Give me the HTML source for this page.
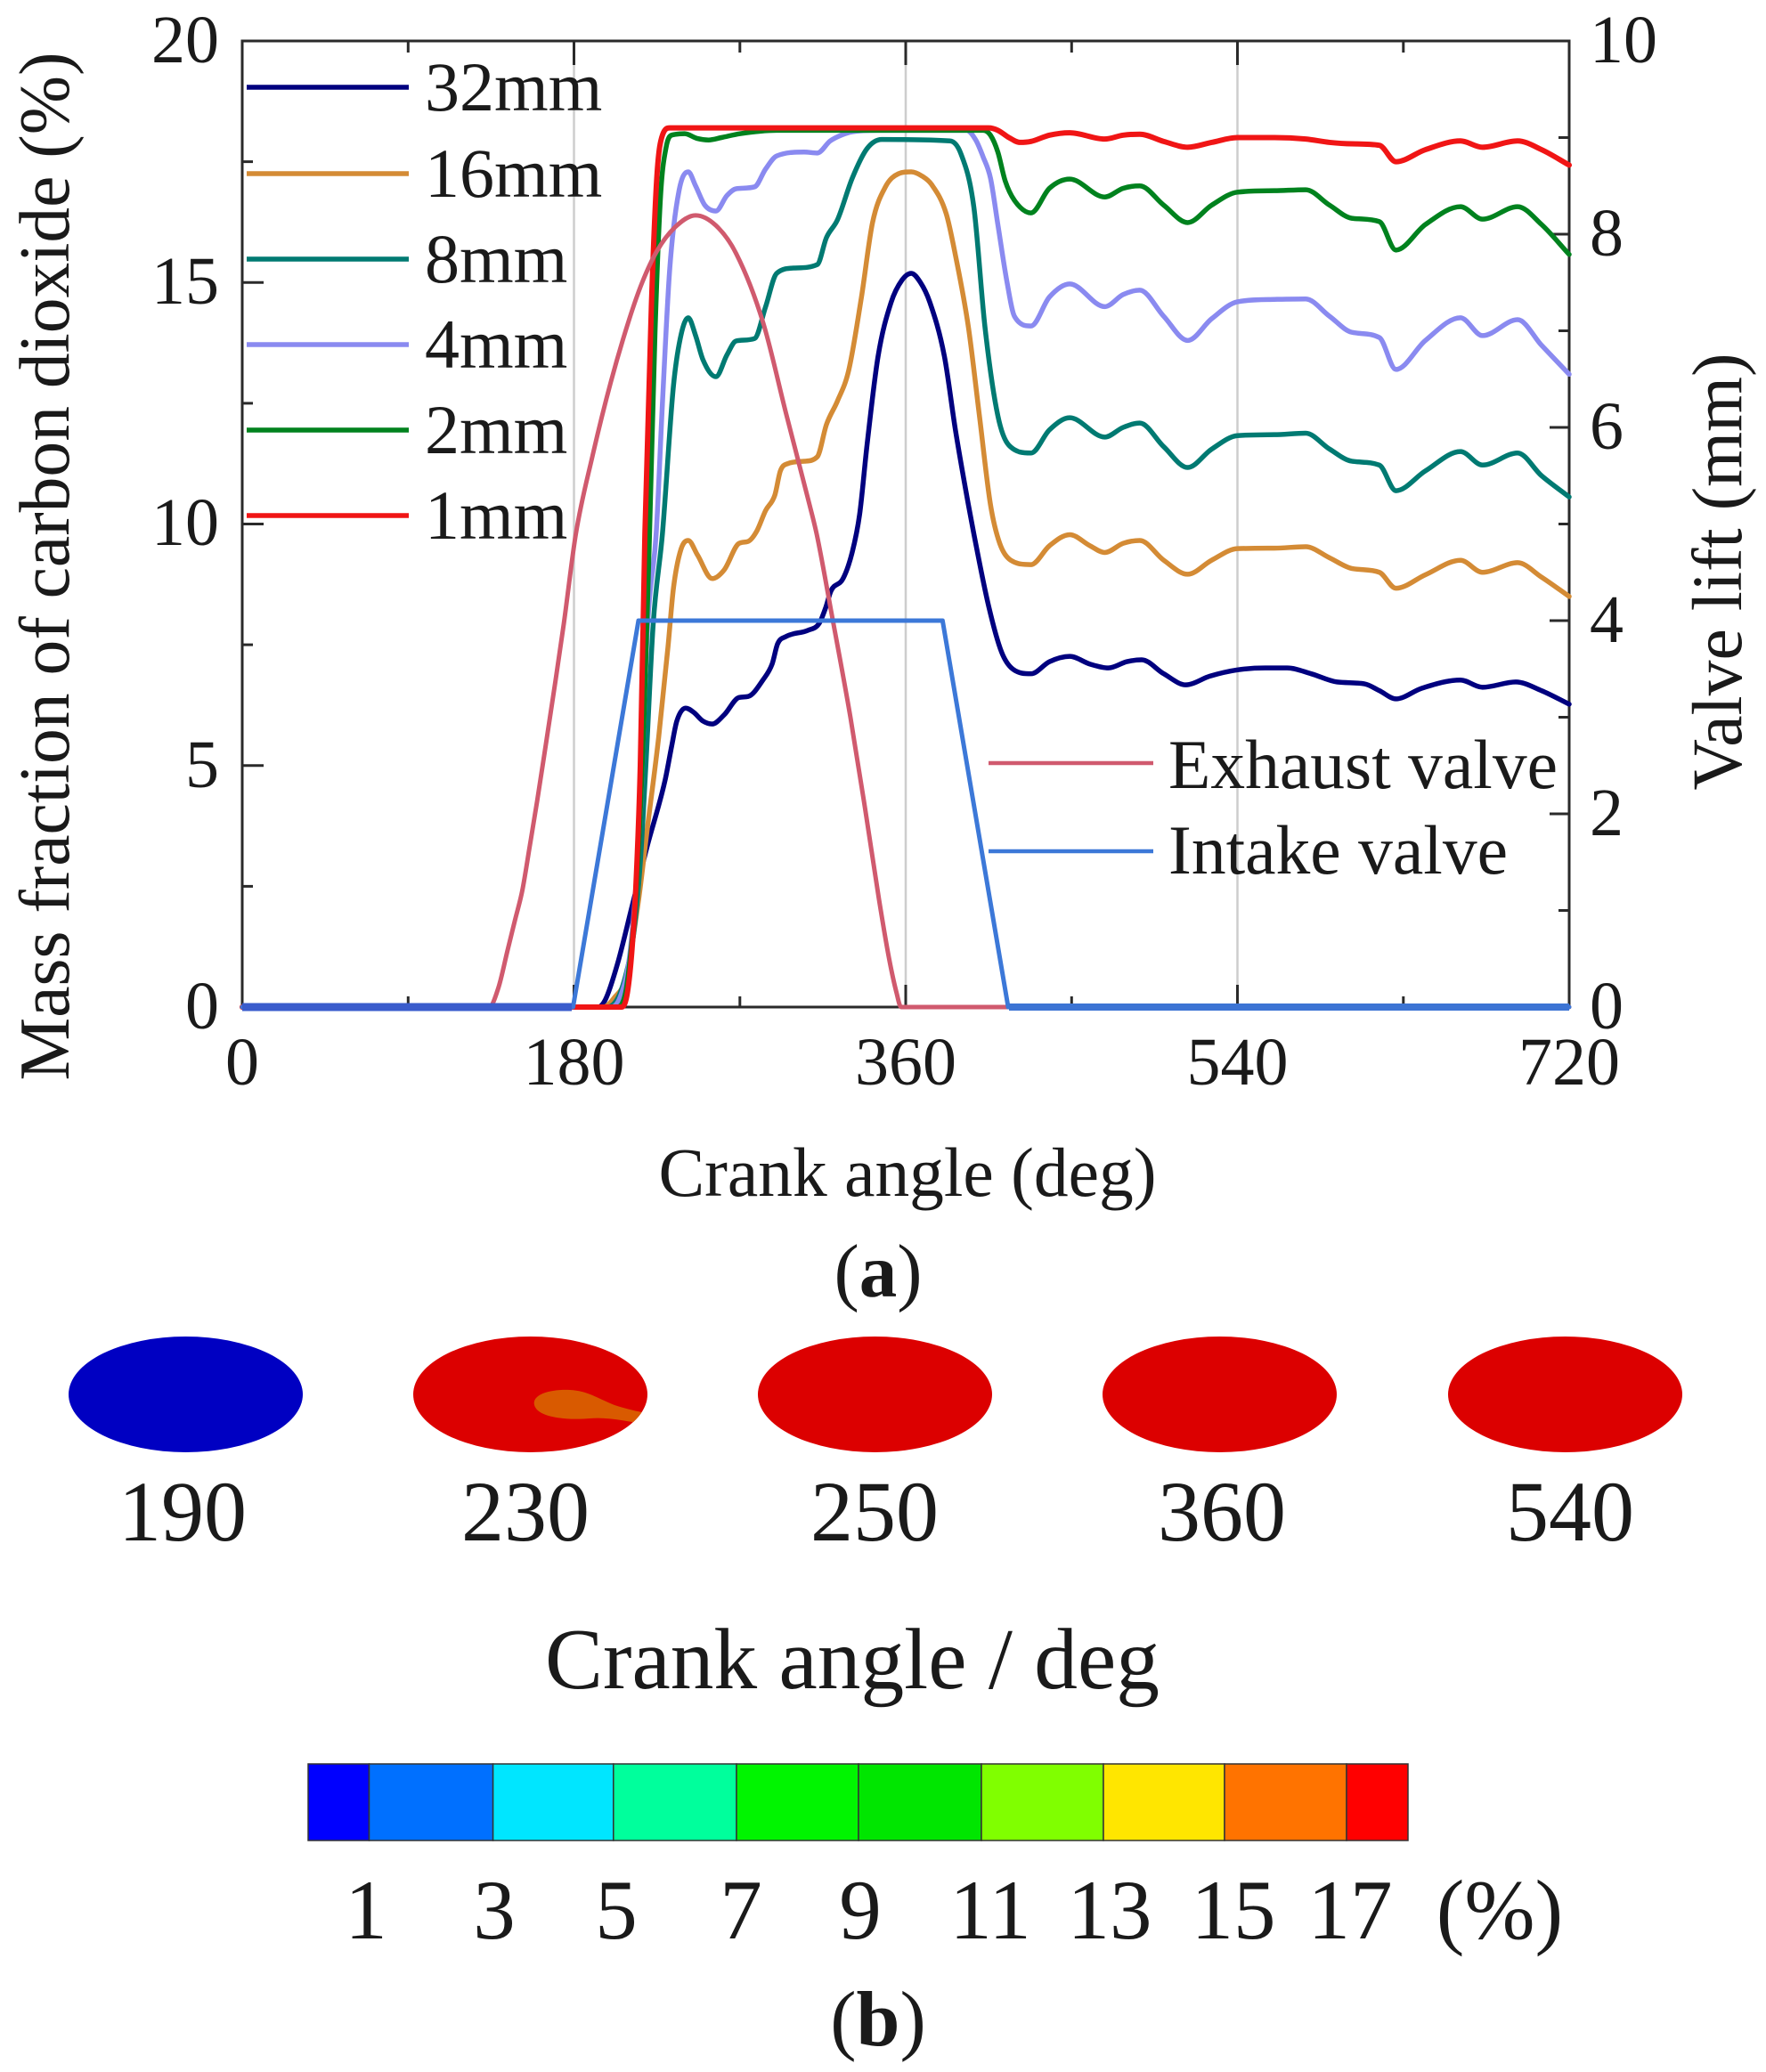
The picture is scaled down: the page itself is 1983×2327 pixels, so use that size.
<!DOCTYPE html>
<html>
<head>
<meta charset="utf-8">
<style>
html,body{margin:0;padding:0;background:#fff;}
svg{display:block;}
text{font-family:"Liberation Serif","Times New Roman",serif;fill:#1a1a1a;}
</style>
</head>
<body>
<svg id="svg" xmlns="http://www.w3.org/2000/svg" width="1983" height="2327" viewBox="0 0 1983 2327">
<rect x="0" y="0" width="1983" height="2327" fill="#fff"/>
<!-- gridlines -->
<g stroke="#cdcdcd" stroke-width="2.5">
<line x1="644.5" y1="46" x2="644.5" y2="1131"/>
<line x1="1017" y1="46" x2="1017" y2="1131"/>
<line x1="1389.5" y1="46" x2="1389.5" y2="1131"/>
</g>
<!-- axes frame -->
<rect x="272" y="46" width="1490" height="1085" fill="none" stroke="#2a2a2a" stroke-width="3"/>
<!-- ticks -->
<g stroke="#2a2a2a" stroke-width="3">
<line x1="644.5" y1="1131" x2="644.5" y2="1106"/>
<line x1="1017" y1="1131" x2="1017" y2="1106"/>
<line x1="1389.5" y1="1131" x2="1389.5" y2="1106"/>
<line x1="458.3" y1="1131" x2="458.3" y2="1119"/>
<line x1="830.8" y1="1131" x2="830.8" y2="1119"/>
<line x1="1203.3" y1="1131" x2="1203.3" y2="1119"/>
<line x1="1575.8" y1="1131" x2="1575.8" y2="1119"/>
<line x1="644.5" y1="46" x2="644.5" y2="73"/>
<line x1="1017" y1="46" x2="1017" y2="73"/>
<line x1="1389.5" y1="46" x2="1389.5" y2="73"/>
<line x1="458.3" y1="46" x2="458.3" y2="59"/>
<line x1="830.8" y1="46" x2="830.8" y2="59"/>
<line x1="1203.3" y1="46" x2="1203.3" y2="59"/>
<line x1="1575.8" y1="46" x2="1575.8" y2="59"/>
<line x1="272" y1="859.75" x2="296" y2="859.75"/>
<line x1="272" y1="588.5" x2="296" y2="588.5"/>
<line x1="272" y1="317.25" x2="296" y2="317.25"/>
<line x1="272" y1="995.4" x2="284" y2="995.4"/>
<line x1="272" y1="724.1" x2="284" y2="724.1"/>
<line x1="272" y1="452.9" x2="284" y2="452.9"/>
<line x1="272" y1="181.6" x2="284" y2="181.6"/>
<line x1="1762" y1="914" x2="1740" y2="914"/>
<line x1="1762" y1="697" x2="1740" y2="697"/>
<line x1="1762" y1="480" x2="1740" y2="480"/>
<line x1="1762" y1="263" x2="1740" y2="263"/>
<line x1="1762" y1="1022.5" x2="1750" y2="1022.5"/>
<line x1="1762" y1="805.5" x2="1750" y2="805.5"/>
<line x1="1762" y1="588.5" x2="1750" y2="588.5"/>
<line x1="1762" y1="371.5" x2="1750" y2="371.5"/>
<line x1="1762" y1="154.5" x2="1750" y2="154.5"/>
</g>
<g id="series" fill="none" stroke-linejoin="round" stroke-linecap="round"></g>
<!-- thick zero segments -->
<line x1="272" y1="1131" x2="642" y2="1131" stroke="#3a5ccc" stroke-width="9"/>
<line x1="1133" y1="1131" x2="1762" y2="1131" stroke="#3c74d4" stroke-width="8"/>

<!-- tick labels -->
<g font-size="76" text-anchor="end">
<text x="246" y="70">20</text>
<text x="246" y="341">15</text>
<text x="246" y="612">10</text>
<text x="246" y="884">5</text>
<text x="246" y="1155">0</text>
</g>
<g font-size="76" text-anchor="start">
<text x="1785" y="70">10</text>
<text x="1785" y="287">8</text>
<text x="1785" y="504">6</text>
<text x="1785" y="721">4</text>
<text x="1785" y="938">2</text>
<text x="1785" y="1155">0</text>
</g>
<g font-size="76" text-anchor="middle">
<text x="272" y="1218">0</text>
<text x="644.5" y="1218">180</text>
<text x="1017" y="1218">360</text>
<text x="1389.5" y="1218">540</text>
<text x="1762" y="1218">720</text>
</g>
<!-- axis titles -->
<text font-size="80" text-anchor="middle" transform="translate(77,636) rotate(-90)" textLength="1155" lengthAdjust="spacingAndGlyphs">Mass fraction of carbon dioxide (%)</text>
<text font-size="79" text-anchor="middle" transform="translate(1955,642) rotate(-90)" textLength="491" lengthAdjust="spacingAndGlyphs">Valve lift (mm)</text>
<text font-size="78" x="1019" y="1343" text-anchor="middle" textLength="559" lengthAdjust="spacingAndGlyphs">Crank angle (deg)</text>
<!-- legend CO2 -->
<g stroke-width="5.5">
<line x1="277" y1="98" x2="459" y2="98" stroke="#00007f"/>
<line x1="277" y1="195" x2="459" y2="195" stroke="#d48b35"/>
<line x1="277" y1="291" x2="459" y2="291" stroke="#007a72"/>
<line x1="277" y1="387" x2="459" y2="387" stroke="#8a8af0"/>
<line x1="277" y1="483" x2="459" y2="483" stroke="#00821e"/>
<line x1="277" y1="579" x2="459" y2="579" stroke="#f01515"/>
</g>
<g font-size="78">
<text x="477" y="124">32mm</text>
<text x="477" y="221">16mm</text>
<text x="477" y="317">8mm</text>
<text x="477" y="413">4mm</text>
<text x="477" y="509">2mm</text>
<text x="477" y="605">1mm</text>
</g>
<!-- legend valves -->
<line x1="1110" y1="857" x2="1295" y2="857" stroke="#d05a6e" stroke-width="4.5"/>
<line x1="1110" y1="956" x2="1295" y2="956" stroke="#3c78d8" stroke-width="4.5"/>
<text font-size="78" x="1312" y="885" textLength="437" lengthAdjust="spacingAndGlyphs">Exhaust valve</text>
<text font-size="78" x="1312" y="981" textLength="381" lengthAdjust="spacingAndGlyphs">Intake valve</text>

<text font-size="85" x="986" y="1456" text-anchor="middle">(<tspan font-weight="bold">a</tspan>)</text>

<!-- ellipses -->
<defs>
<clipPath id="e2"><ellipse cx="595.5" cy="1566" rx="131.5" ry="65"/></clipPath>
</defs>
<ellipse cx="208.5" cy="1566" rx="131.5" ry="65" fill="#0000c2"/>
<ellipse cx="595.5" cy="1566" rx="131.5" ry="65" fill="#dc0000"/>
<path clip-path="url(#e2)" fill="#d95a00" d="M600 1578 C597 1566 618 1560 640 1561 C660 1562 670 1570 690 1578 C705 1583 716 1585 730 1588 L730 1600 C705 1597 685 1591 662 1593 C640 1595 604 1593 600 1578 Z"/>
<ellipse cx="982.5" cy="1566" rx="131.5" ry="65" fill="#dc0000"/>
<ellipse cx="1369.5" cy="1566" rx="131.5" ry="65" fill="#dc0000"/>
<ellipse cx="1757.5" cy="1566" rx="131.5" ry="65" fill="#dc0000"/>
<g font-size="96" text-anchor="middle">
<text x="205" y="1730">190</text>
<text x="590" y="1730">230</text>
<text x="982" y="1730">250</text>
<text x="1372" y="1730">360</text>
<text x="1763" y="1730">540</text>
</g>
<text font-size="98" x="957" y="1896" text-anchor="middle" textLength="690" lengthAdjust="spacingAndGlyphs">Crank angle / deg</text>

<!-- colorbar -->
<g stroke="#333" stroke-width="1.5">
<rect x="346" y="1981" width="68.5" height="86" fill="#0000ff"/>
<rect x="414.5" y="1981" width="139.1" height="86" fill="#0070ff"/>
<rect x="553.6" y="1981" width="135.2" height="86" fill="#00e6ff"/>
<rect x="688.8" y="1981" width="138.2" height="86" fill="#00ff9c"/>
<rect x="827" y="1981" width="137" height="86" fill="#00f500"/>
<rect x="964" y="1981" width="138" height="86" fill="#00e600"/>
<rect x="1102" y="1981" width="137" height="86" fill="#80ff00"/>
<rect x="1239" y="1981" width="136" height="86" fill="#ffe600"/>
<rect x="1375" y="1981" width="137" height="86" fill="#ff7300"/>
<rect x="1512" y="1981" width="69" height="86" fill="#ff0000"/>
</g>
<g font-size="95" text-anchor="middle">
<text x="411" y="2177">1</text>
<text x="555" y="2177">3</text>
<text x="692" y="2177">5</text>
<text x="832" y="2177">7</text>
<text x="966" y="2177">9</text>
<text x="1112" y="2177">11</text>
<text x="1246" y="2177">13</text>
<text x="1385" y="2177">15</text>
<text x="1516" y="2177">17</text>
<text x="1684" y="2177">(%)</text>
</g>
<text font-size="88" x="986" y="2297" text-anchor="middle">(<tspan font-weight="bold">b</tspan>)</text>
</svg>
<script>
(function(){
var X=function(t){return 272+t*1490/720;};
var Y=function(v){return 1131-v*54.25;};
function mono(p){
 var n=p.length,i,d=[],m=[];
 for(i=0;i<n-1;i++){d.push((p[i+1][1]-p[i][1])/(p[i+1][0]-p[i][0]));}
 m[0]=d[0];m[n-1]=d[n-2];
 for(i=1;i<n-1;i++){ if(d[i-1]*d[i]<=0){m[i]=0;} else {m[i]=(d[i-1]+d[i])/2;} }
 for(i=0;i<n-1;i++){
  if(d[i]===0){m[i]=0;m[i+1]=0;continue;}
  var a=m[i]/d[i],b=m[i+1]/d[i],s=a*a+b*b;
  if(s>9){var t=3/Math.sqrt(s);m[i]=t*a*d[i];m[i+1]=t*b*d[i];}
 }
 var s2="M"+X(p[0][0]).toFixed(2)+" "+Y(p[0][1]).toFixed(2);
 for(i=0;i<n-1;i++){
  var h=p[i+1][0]-p[i][0];
  var c1x=p[i][0]+h/3,c1y=p[i][1]+m[i]*h/3;
  var c2x=p[i+1][0]-h/3,c2y=p[i+1][1]-m[i+1]*h/3;
  s2+=" C"+X(c1x).toFixed(2)+" "+Y(c1y).toFixed(2)+" "+X(c2x).toFixed(2)+" "+Y(c2y).toFixed(2)+" "+X(p[i+1][0]).toFixed(2)+" "+Y(p[i+1][1]).toFixed(2);
 }
 return s2;
}
function poly(p){var s="";for(var i=0;i<p.length;i++){s+=(i?" L":"M")+X(p[i][0]).toFixed(2)+" "+Y(p[i][1]).toFixed(2);}return s;}
var navy=[[0,0],[193,0],[197,0.15],[203.5,0.88],[211.6,2.1],[219.8,3.34],[229.4,4.69],[233,5.4],[235.8,5.92],[240.6,6.19],[245,6.1],[250,5.92],[255,5.86],[261.5,6.05],[269.6,6.41],[274.5,6.43],[282.7,6.78],[287.5,7.1],[290.5,7.52],[295,7.67],[307,7.8],[313,7.94],[316.5,8.26],[319.5,8.62],[326,8.87],[331,9.42],[335,10.2],[339,11.63],[345,13.47],[352,14.58],[358,15.05],[363,15.19],[368,15.0],[373,14.6],[381,13.47],[387,11.94],[394,10.4],[397,9.79],[405,8.3],[412,7.35],[418,7.0],[428,6.9],[438,7.15],[449,7.26],[460,7.1],[470,7.02],[480,7.15],[488,7.19],[500,6.9],[512,6.67],[525,6.85],[540,6.98],[555,7.02],[567,7.02],[580,6.9],[594,6.73],[609,6.69],[617,6.55],[626,6.38],[640,6.6],[661,6.77],[673,6.62],[691,6.73],[705,6.55],[720,6.27]];
var orange=[[0,0],[196,0],[202,0.2],[208,0.6],[215,2.2],[220,3.76],[226,5.6],[231,7.45],[234,8.68],[238,9.47],[242,9.66],[247,9.36],[255,8.87],[261.5,9.05],[269.6,9.6],[274.5,9.64],[279,9.84],[284,10.28],[289,10.6],[292,11.1],[296,11.25],[305,11.3],[312,11.39],[317,12.06],[323,12.55],[329,13.17],[336,14.7],[342,16.24],[349,16.98],[356,17.25],[363,17.29],[369,17.2],[374,17.03],[382,16.42],[387,15.56],[394,14.08],[400,12.24],[406,10.4],[411,9.6],[417,9.25],[428,9.16],[438,9.55],[449,9.78],[460,9.55],[468,9.41],[478,9.6],[487,9.66],[500,9.25],[513,8.96],[526,9.25],[540,9.49],[560,9.5],[577,9.53],[590,9.3],[602,9.08],[617,9.0],[626,8.67],[642,8.95],[661,9.25],[673,9.0],[692,9.2],[705,8.9],[720,8.5]];
var teal=[[0,0],[198,0],[204,0.2],[209,0.8],[212,1.4],[216,3],[219,5],[223,7.94],[228,9.8],[234,12.87],[238,13.9],[242,14.27],[246,13.9],[250,13.4],[257,13.05],[263,13.5],[268,13.79],[278,13.84],[284,14.5],[290,15.19],[300,15.3],[312,15.37],[317,15.93],[323,16.3],[331,17.16],[339,17.77],[347,17.96],[384,17.93],[390,17.66],[397,16.55],[403,14.08],[410,12.24],[416,11.63],[428,11.47],[438,11.95],[449,12.2],[468,11.8],[478,12.0],[487,12.09],[500,11.6],[513,11.17],[526,11.55],[540,11.83],[560,11.85],[577,11.88],[590,11.55],[602,11.3],[617,11.22],[626,10.69],[642,11.1],[661,11.5],[673,11.22],[692,11.47],[705,11.0],[720,10.56]];
var lav=[[0,0],[200,0],[205,0.2],[210,1],[213,2.2],[216,4],[220,7.94],[224.6,9.8],[228,12.5],[232,15.3],[237,16.9],[242,17.29],[246,17.0],[251,16.6],[257,16.48],[263,16.8],[268,16.94],[278,16.98],[284,17.35],[290,17.62],[305,17.7],[312,17.68],[319,17.93],[325,18.05],[331,18.12],[345,18.15],[393,18.15],[398,17.95],[402,17.6],[406,17.16],[410,16.2],[415,15.0],[419,14.3],[428,14.1],[438,14.7],[449,14.97],[468,14.5],[478,14.75],[487,14.84],[500,14.3],[513,13.8],[526,14.25],[540,14.6],[560,14.65],[577,14.66],[590,14.3],[602,13.97],[617,13.86],[626,13.2],[642,13.8],[661,14.27],[673,13.9],[692,14.23],[705,13.7],[720,13.1]];
var green=[[0,0],[203,0],[208,0.3],[211,1.2],[214,2.5],[218,6],[221,9.8],[224,14],[227,16.8],[230,17.8],[233,18.05],[240,18.08],[247,17.98],[253,17.95],[260,18.0],[270,18.08],[290,18.15],[402,18.15],[406,18.05],[410,17.7],[414,17.1],[419,16.7],[428,16.44],[438,16.95],[449,17.14],[468,16.77],[478,16.95],[487,17.0],[500,16.6],[513,16.24],[526,16.6],[540,16.87],[560,16.9],[577,16.92],[590,16.6],[602,16.33],[617,16.26],[626,15.67],[642,16.2],[661,16.57],[673,16.31],[692,16.57],[705,16.2],[720,15.58]];
var red=[[0,0],[206,0],[209,0.3],[211.5,1.2],[213.6,2.5],[216,5],[218.5,9.8],[222,14.5],[225,17.2],[228,18.05],[232,18.2],[405,18.2],[410,18.15],[416,18.0],[422,17.9],[428,17.92],[438,18.05],[449,18.1],[468,17.97],[478,18.05],[487,18.07],[500,17.92],[513,17.8],[526,17.9],[540,18.0],[560,18.0],[577,17.97],[590,17.9],[602,17.87],[617,17.84],[626,17.5],[642,17.75],[661,17.93],[673,17.8],[692,17.93],[705,17.75],[720,17.43]];
var exh=[[0,0],[134,0],[139,0.4],[144,1.18],[148,1.8],[152,2.42],[156,3.33],[160,4.26],[164.8,5.45],[169.8,6.71],[174.5,7.94],[181,9.79],[190,11.4],[200,12.94],[210,14.24],[217,15.0],[225,15.65],[235,16.15],[246,16.39],[257,16.18],[268,15.6],[282.7,14.16],[295,12.3],[307,10.52],[311.7,9.79],[320,8.1],[330,6.0],[338,4.1],[345.5,2.23],[351,1.0],[355,0.3],[357.5,0],[720,0]];
var intake=[[0,0],[179.5,0],[215,8],[380,8],[415.6,0],[720,0]];
var g=document.getElementById("series");
var NS="http://www.w3.org/2000/svg";
function add(d,c,w){var e=document.createElementNS(NS,"path");e.setAttribute("d",d);e.setAttribute("stroke",c);e.setAttribute("stroke-width",w);g.appendChild(e);}
add(mono(navy),"#00007f",5.5);
add(mono(orange),"#d48b35",5.5);
add(mono(teal),"#007a72",5.5);
add(mono(lav),"#8a8af0",5.5);
add(mono(green),"#00821e",5.5);
add(mono(red),"#f01515",6);
add(mono(exh),"#d05a6e",5);
add(poly(intake),"#3c78d8",5);
})();
</script>
</body>
</html>
